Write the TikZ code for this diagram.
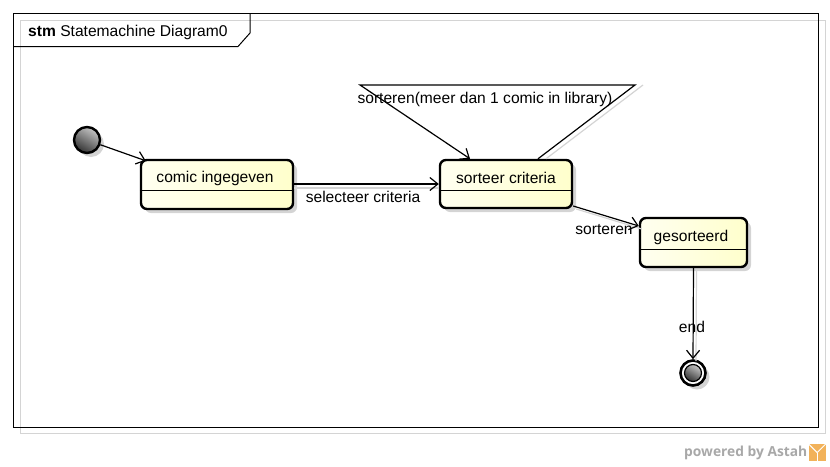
\documentclass[tikz,border=0pt]{standalone}
\usepackage{fontspec}
\setmainfont{Liberation Sans}
\newfontfamily\astahfont{Open Sans}
\usetikzlibrary{arrows.meta,shadows,calc}
\definecolor{stfillA}{HTML}{FFFFF0}
\definecolor{stfillB}{HTML}{FFFFCC}
\definecolor{shadowgray}{HTML}{D4D4D4}
\definecolor{astahgray}{HTML}{A8A8A8}
\definecolor{astahorange}{HTML}{F2B25A}
\tikzset{
  stbox/.style={draw=black, line width=2.4pt, rounded corners=6pt,
    left color=stfillA, right color=stfillB,
    drop shadow={shadow xshift=4pt, shadow yshift=-4pt, fill=shadowgray, opacity=1},
    inner sep=0pt},
  sttext/.style={font=\fontsize{15.6}{17}\selectfont, inner sep=0pt},
  lbl/.style={font=\fontsize{15.6}{17}\selectfont, inner sep=0pt},
  trans/.style={draw=black, line width=1.2pt, -{Straight Barb[length=8pt,width=13pt,line width=1.2pt]}},
  transshadow/.style={draw=shadowgray, line width=1.2pt},
  pseudo/.style={circle, draw=black, line width=2.4pt, inner sep=0pt,
    shading=axis, top color=gray!45, bottom color=black!80, shading angle=-30},
}
\begin{document}
\begin{tikzpicture}[x=1pt,y=-1pt]
\useasboundingbox (0,0) rectangle (830,466);
% frame shadow line
\draw[shadowgray, line width=1pt] (20,20) rectangle (825,433);
% frame
\draw[black, line width=1pt, fill=none] (13,13) rectangle (818,427);
\draw[black, line width=1pt] (13,46.5) -- (238,46.5) -- (250,33) -- (250,13);
\node[anchor=base west, font=\fontsize{15.6}{17}\selectfont, inner sep=0pt] (title) at (28,36) {\textbf{stm} Statemachine Diagram0};

% states
\node[stbox, minimum width=152pt, minimum height=49pt] (s1) at (217,184.5) {};
\node[stbox, minimum width=132pt, minimum height=48pt] (s2) at (506,184) {};
\node[stbox, minimum width=107pt, minimum height=49pt] (s3) at (693.5,242.5) {};
\draw[line width=1pt] (s1.west |- 0,190.7) -- (s1.east |- 0,190.7);
\draw[line width=1pt] (s2.west |- 0,190) -- (s2.east |- 0,190);
\draw[line width=1pt] (s3.west |- 0,249) -- (s3.east |- 0,249);
\node[sttext] (t1) at (215,178) {comic ingegeven};
\node[sttext] (t2) at (506,178) {sorteer criteria};
\node[sttext] (t3) at (691,237) {gesorteerd};

% pseudo states
\node[pseudo, minimum size=26pt, drop shadow={shadow xshift=4pt, shadow yshift=-4pt, fill=shadowgray, opacity=1}] (init) at (87,140) {};
\node[circle, draw=black, line width=2.6pt, fill=white, minimum size=25pt, inner sep=0pt,
  drop shadow={shadow xshift=4pt, shadow yshift=-4pt, fill=shadowgray, opacity=1}] (final) at (693,373) {};
\node[pseudo, line width=1.2pt, minimum size=17pt] (finalin) at (693,373) {};

% loop corner coordinates
\coordinate (loopL) at (360,85);
\coordinate (loopR) at (635,85);

% transition shadows
\draw[transshadow] ([shift={(3,3)}]s2.east |- 0,206) -- ([shift={(3,3)}]s3.west |- 0,226);
\draw[transshadow] ([shift={(3,3)}]s3.south) -- ([shift={(3,2)}]final.north);
\draw[transshadow] ([shift={(8,0)}]loopR) -- ([shift={(40,0)}]s2.north);
\draw[transshadow] ([shift={(0,4)}]s1.east |- 0,184) -- ([shift={(0,4)}]s2.west |- 0,184);

% transitions
\draw[trans] (init) -- ([shift={(6,2)}]s1.north west);
\draw[trans] (s1.east |- 0,184) -- (s2.west |- 0,184);
\draw[trans] ([xshift=32pt]s2.north) -- (loopR) -- (loopL) -- ([xshift=-36pt]s2.north);
\draw[trans] (s2.east |- 0,206) -- (s3.west |- 0,226);
\draw[trans] (s3.south) -- (final.north);

% labels
\node[lbl] (l1) at (363,197) {selecteer criteria};
\node[lbl] (l2) at (485,99) {sorteren(meer dan 1 comic in library)};
\node[lbl] (l3) at (604,230) {sorteren};
\node[lbl] (l4) at (692,327) {end};

% powered by
\node[anchor=east, font=\astahfont\bfseries\fontsize{13.8}{16}\selectfont, text=astahgray, inner sep=0pt] (pw) at (807.5,452.5) {powered by Astah};
\node[fill=astahorange, minimum size=17pt, inner sep=0pt, anchor=west] (logo) at (808.5,452.5) {};
\draw[white, line width=1pt] (logo.north west) -- (logo.center) -- (logo.north east);
\draw[white, line width=1pt] (logo.center) -- (logo.south);
\draw[white, line width=0.8pt] ([xshift=-3pt]logo.south) -- ([shift={(-3pt,-4pt)}]logo.south) -- ([shift={(3pt,-4pt)}]logo.south);
\end{tikzpicture}
\end{document}
